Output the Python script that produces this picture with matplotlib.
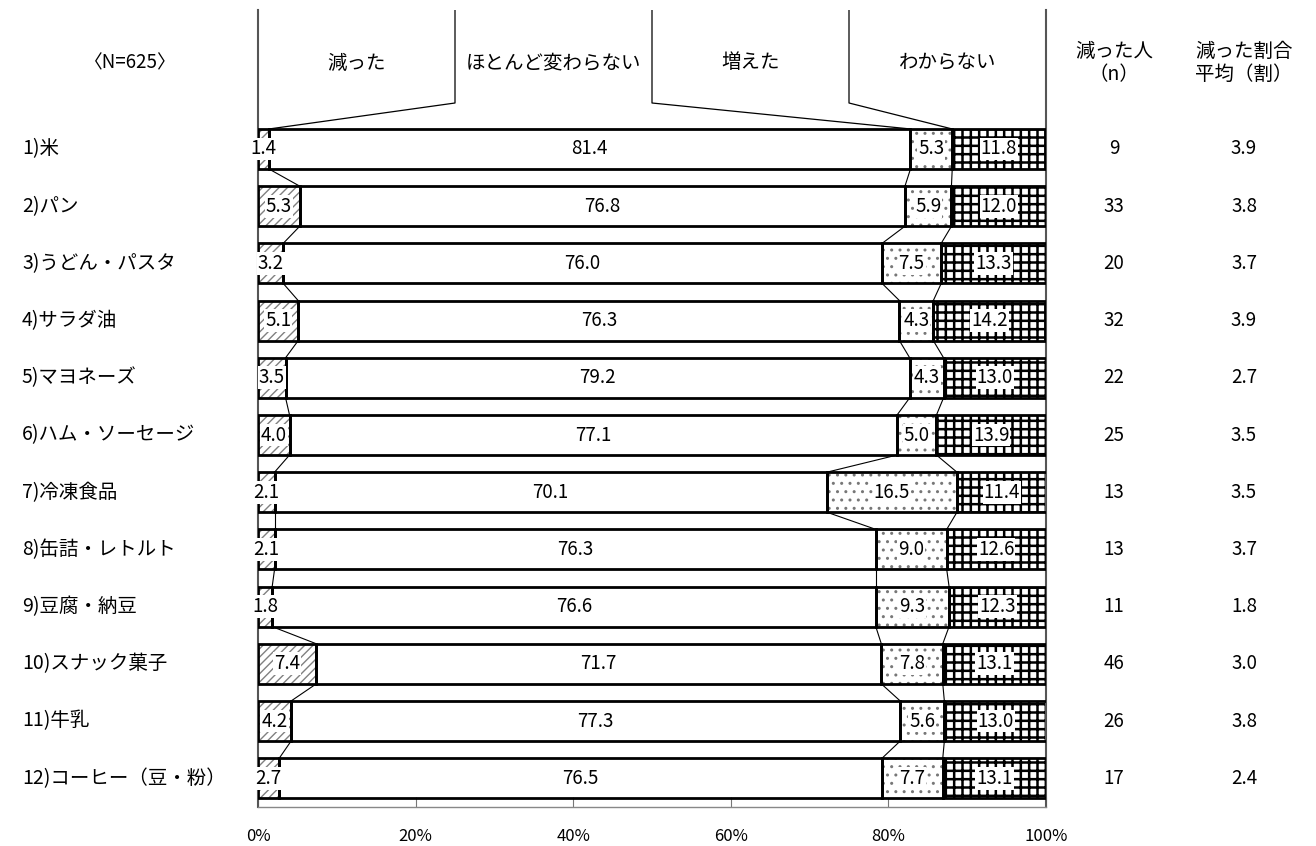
import numpy as np
import matplotlib
matplotlib.use("Agg")
import matplotlib.pyplot as plt
import matplotlib.transforms as mtransforms

plt.rcParams['font.family'] = ['Noto Sans CJK JP', 'DejaVu Sans']
plt.rcParams['hatch.linewidth'] = 1.0

items = ["1)米", "2)パン", "3)うどん・パスタ", "4)サラダ油", "5)マヨネーズ",
         "6)ハム・ソーセージ", "7)冷凍食品", "8)缶詰・レトルト", "9)豆腐・納豆",
         "10)スナック菓子", "11)牛乳", "12)コーヒー（豆・粉）"]
categories = ["減った", "ほとんど変わらない", "増えた", "わからない"]
decreased = [1.4, 5.3, 3.2, 5.1, 3.5, 4.0, 2.1, 2.1, 1.8, 7.4, 4.2, 2.7]
same = [81.4, 76.8, 76.0, 76.3, 79.2, 77.1, 70.1, 76.3, 76.6, 71.7, 77.3, 76.5]
increased = [5.3, 5.9, 7.5, 4.3, 4.3, 5.0, 16.5, 9.0, 9.3, 7.8, 5.6, 7.7]
unknown = [11.8, 12.0, 13.3, 14.2, 13.0, 13.9, 11.4, 12.6, 12.3, 13.1, 13.0, 13.1]
n_decreased = [9, 33, 20, 32, 22, 25, 13, 13, 11, 46, 26, 17]
avg_ratio = [3.9, 3.8, 3.7, 3.9, 2.7, 3.5, 3.5, 3.7, 1.8, 3.0, 3.8, 2.4]
xticks = [0, 20, 40, 60, 80, 100]

series = [decreased, same, increased, unknown]
# hatch, hatch colour, hatch linewidth
styles = [("////", "#808080", 1.0), (None, "white", 0), ("..", "#777777", 1.0), ("++", "black", 1.8)]

W, H = 1316, 846
fig = plt.figure(figsize=(W / 100, H / 100), dpi=100)
top_px, bot_px = 10, 807
ax = fig.add_axes([258 / W, 1 - bot_px / H, 788 / W, (bot_px - top_px) / H])

pitch = 57.2
row0 = 149
ytop = (top_px - row0) / pitch
ybot = (bot_px - row0) / pitch
head_bot = (103 - row0) / pitch
hy = (63 - row0) / pitch
bh = 0.70

y = np.arange(len(items))
data = np.array(series)
cum = np.vstack([np.zeros(len(items)), np.cumsum(data, axis=0)])

for k, vals in enumerate(series):
    hatch, hcol, hlw = styles[k]
    left = cum[k]
    if hatch:
        b = ax.barh(y, vals, left=left, height=bh, color="white", edgecolor=hcol,
                    hatch=hatch, linewidth=0, zorder=2)
        for p in b:
            try:
                p.set_hatch_linewidth(hlw)
            except AttributeError:
                pass
    ax.barh(y, vals, left=left, height=bh, facecolor="none", edgecolor="black",
            linewidth=2, zorder=3)
    for i, v in enumerate(vals):
        ax.text(left[i] + v / 2, y[i], f"{v:.1f}", ha="center", va="center",
                fontsize=13.5, zorder=5,
                bbox=dict(boxstyle="square,pad=0.05", fc="white", ec="none") if hatch else None)

# connector lines between bars
for i in range(len(items) - 1):
    for k in (1, 2, 3):
        ax.plot([cum[k][i], cum[k][i + 1]], [y[i] + bh / 2, y[i + 1] - bh / 2],
                color="black", lw=0.8, zorder=1)

# header columns
for j, xv in enumerate([25, 50, 75]):
    ax.plot([xv, xv, cum[j + 1][0]], [ytop, head_bot, -bh / 2], color="black", lw=0.9, zorder=1)
for j, c in enumerate(categories):
    ax.text(12.5 + 25 * j, hy, c, ha="center", va="center", fontsize=14)

ax.set_xlim(0, 100)
ax.set_ylim(ybot, ytop)
ax.set_yticks([])
ax.set_xticks(xticks)
ax.set_xticklabels([f"{t}%" for t in xticks], fontsize=12)
ax.tick_params(axis="x", direction="in", length=7, color="#777777", pad=15)
ax.spines["top"].set_visible(False)
for s in ("left", "right"):
    ax.spines[s].set_color("#555555")
    ax.spines[s].set_linewidth(1.5)
ax.spines["bottom"].set_color("#888888")
ax.spines["bottom"].set_linewidth(1)

tr = mtransforms.blended_transform_factory(fig.transFigure, ax.transData)
for i, name in enumerate(items):
    ax.text(22 / W, y[i], name, transform=tr, ha="left", va="center", fontsize=14, clip_on=False)
    ax.text(1114 / W, y[i], str(n_decreased[i]), transform=tr, ha="center", va="center",
            fontsize=13.5, clip_on=False)
    ax.text(1244 / W, y[i], f"{avg_ratio[i]:.1f}", transform=tr, ha="center", va="center",
            fontsize=13.5, clip_on=False)

ax.text(130 / W, hy, "〈N=625〉", transform=tr, ha="center", va="center", fontsize=13.5, clip_on=False)
ax.text(1114 / W, hy, "減った人\n（n）", transform=tr, ha="center", va="center",
        fontsize=14, linespacing=1.1, clip_on=False)
ax.text(1244 / W, hy, "減った割合\n平均（割）", transform=tr, ha="center", va="center",
        fontsize=14, linespacing=1.1, clip_on=False)

fig.savefig("out.png", dpi=100, facecolor="white")
